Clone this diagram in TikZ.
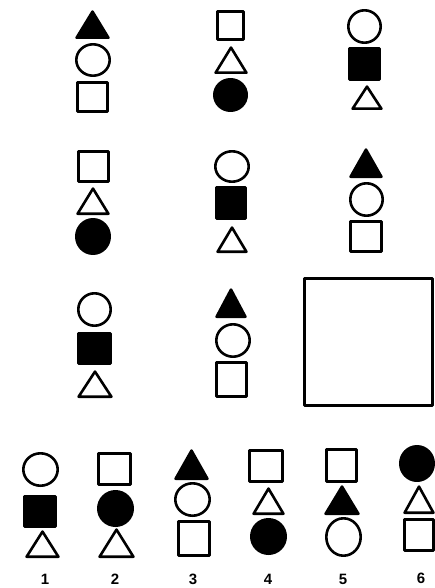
\documentclass[tikz,border=0pt]{standalone}
\usepackage{fontspec}
\setmainfont{Liberation Sans}
\tikzset{
  shp/.style={draw=black,line width=2.6pt,line join=round},
  blk/.style={fill=black},
  wht/.style={fill=white},
  lbl/.style={font=\fontsize{15}{15}\selectfont\bfseries,inner sep=0pt}
}
% square: x1 y1 x2 y2 style
\newcommand\Sq[5]{\draw[shp,#5] ({#1+1.3},{#2+1.3}) rectangle ({#3-1.3},{#4-1.3});}
% circle: x1 x2 y1 y2 style
\newcommand\Ci[5]{\draw[shp,#5] ({(#1+#2)/2},{(#3+#4)/2}) ellipse [x radius={((#2)-(#1))/2-1.3}, y radius={((#4)-(#3))/2-1.3}];}
% triangle: x1 x2 ytop ybot style
\newcommand\Tr[5]{\draw[shp,#5] ({#1+1.6},{#4-1.3}) -- ({#2-1.6},{#4-1.3}) -- ({(#1+#2)/2},{#3+1.6}) -- cycle;}
\begin{document}
\begin{tikzpicture}[x=1pt,y=-1pt]
\useasboundingbox[fill=white] (0,0) rectangle (435,588);
% Row 1
\Tr{75}{110}{10}{39}{blk}
\Ci{75}{111}{43}{77}{wht}
\Sq{76}{81}{109}{113}{wht}
\Sq{216}{10}{245}{41}{wht}
\Tr{214}{248}{46}{74}{wht}
\Ci{213}{248}{78}{112}{blk}
\Ci{347}{382}{9}{44}{wht}
\Sq{348}{47}{381}{81}{blk}
\Tr{351}{383}{85}{110}{wht}
% Row 2
\Sq{77}{150}{110}{183}{wht}
\Tr{76}{110}{187}{215}{wht}
\Ci{75}{111}{218}{255}{blk}
\Ci{214}{250}{150}{183}{wht}
\Sq{215}{186}{247}{220}{blk}
\Tr{216}{248}{226}{253}{wht}
\Tr{349}{383}{148}{178}{blk}
\Ci{349}{384}{182}{217}{wht}
\Sq{349}{220}{383}{253}{wht}
% Row 3
\Ci{77}{112}{292}{327}{wht}
\Sq{77}{332}{112}{365}{blk}
\Tr{77}{113}{370}{398}{wht}
\Tr{215}{247}{288}{318}{blk}
\Ci{215}{251}{323}{358}{wht}
\Sq{215}{361}{248}{398}{wht}
\Sq{303}{277}{434}{407}{wht}
% Answers
\Ci{22}{59}{452}{487}{wht}
\Sq{23}{495}{57}{528}{blk}
\Tr{25}{60}{530}{558}{wht}
\node[lbl] (n1) at (45,579) {1};
\Sq{97}{452}{132}{486}{wht}
\Ci{97}{134}{490}{527}{blk}
\Tr{98}{135}{528}{558}{wht}
\node[lbl] (n2) at (115,579) {2};
\Tr{174}{209}{449}{480}{blk}
\Ci{174}{211}{482}{517}{wht}
\Sq{177}{520}{211}{557}{wht}
\node[lbl] (n3) at (193,579) {3};
\Sq{248}{449}{284}{483}{wht}
\Tr{252}{285}{487}{515}{wht}
\Ci{250}{287}{518}{555}{blk}
\node[lbl] (n4) at (268,579) {4};
\Sq{325}{448}{358}{483}{wht}
\Tr{324}{360}{485}{515}{blk}
\Ci{325}{362}{517}{557}{wht}
\node[lbl] (n5) at (343,579) {5};
\Ci{399}{435}{445}{482}{blk}
\Tr{403}{435}{485}{514}{wht}
\Sq{403}{518}{435}{552}{wht}
\node[lbl] (n6) at (421,578) {6};
\end{tikzpicture}
\end{document}
